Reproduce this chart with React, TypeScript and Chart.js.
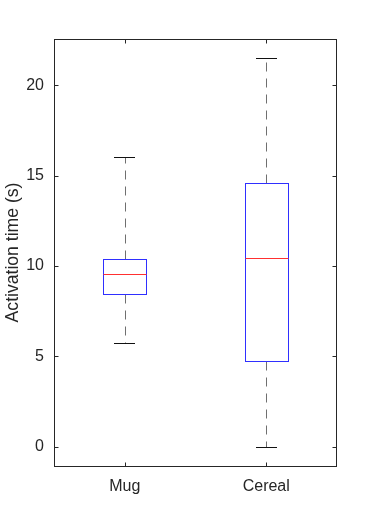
import React, { useEffect, useRef } from "react";
import { Chart, registerables } from "chart.js";

Chart.register(...registerables);

const categories = ["Mug", "Cereal"];
const q1 = [8.46, 4.75];
const medians = [9.57, 10.47];
const q3 = [10.4, 14.61];
const whiskerLow = [5.74, 0];
const whiskerHigh = [16.06, 21.53];
const yTicks = [0, 5, 10, 15, 20];
const yMin = -1.075;
const yMax = 22.575;

const TEXT = "#262626";
const BOX = "#2f2fff";
const MED = "#ff3030";
const WHISK = "#6f6f6f";
const FONT = "'Liberation Sans', Arial, sans-serif";

const crisp = (v: number) => Math.round(v) + 0.5;

const boxPlugin = {
  id: "boxPlugin",
  afterDatasetsDraw(chart: any) {
    const { ctx, scales } = chart;
    const xs = scales.x;
    const ys = scales.y;
    ctx.save();
    ctx.lineWidth = 1;
    categories.forEach((_, i) => {
      const cx = xs.getPixelForValue(i);
      const half = 21.5;
      const capHalf = 10.5;
      const yq1 = ys.getPixelForValue(q1[i]);
      const yq3 = ys.getPixelForValue(q3[i]);
      const ylo = ys.getPixelForValue(whiskerLow[i]);
      const yhi = ys.getPixelForValue(whiskerHigh[i]);
      const ymed = ys.getPixelForValue(medians[i]);
      // whiskers dashed
      ctx.strokeStyle = WHISK;
      ctx.setLineDash([9, 7]);
      ctx.beginPath();
      ctx.moveTo(crisp(cx), crisp(yq3));
      ctx.lineTo(crisp(cx), crisp(yhi));
      ctx.moveTo(crisp(cx), crisp(yq1));
      ctx.lineTo(crisp(cx), crisp(ylo));
      ctx.stroke();
      ctx.setLineDash([]);
      // caps
      ctx.strokeStyle = "#111111";
      ctx.beginPath();
      ctx.moveTo(Math.round(cx - capHalf), crisp(yhi));
      ctx.lineTo(Math.round(cx + capHalf), crisp(yhi));
      ctx.moveTo(Math.round(cx - capHalf), crisp(ylo));
      ctx.lineTo(Math.round(cx + capHalf), crisp(ylo));
      ctx.stroke();
      // box
      ctx.strokeStyle = BOX;
      const l = crisp(cx - half);
      const r = crisp(cx + half);
      ctx.strokeRect(l, crisp(yq3), r - l, crisp(yq1) - crisp(yq3));
      // median
      ctx.strokeStyle = MED;
      ctx.beginPath();
      ctx.moveTo(l, crisp(ymed));
      ctx.lineTo(r, crisp(ymed));
      ctx.stroke();
    });
    ctx.restore();
  },
  afterDraw(chart: any) {
    const { ctx, chartArea, scales } = chart;
    const { left, right, top, bottom } = chartArea;
    ctx.save();
    ctx.strokeStyle = TEXT;
    ctx.lineWidth = 1;
    const L = crisp(left);
    const R = crisp(right) - 1;
    const T = crisp(top);
    const B = crisp(bottom);
    ctx.strokeRect(L, T, R - L, B - T);
    const tl = 4;
    ctx.beginPath();
    yTicks.forEach((v) => {
      const y = crisp(scales.y.getPixelForValue(v));
      ctx.moveTo(L, y);
      ctx.lineTo(L + tl, y);
      ctx.moveTo(R, y);
      ctx.lineTo(R - tl, y);
    });
    categories.forEach((_, i) => {
      const x = crisp(scales.x.getPixelForValue(i));
      ctx.moveTo(x, B);
      ctx.lineTo(x, B - tl);
      ctx.moveTo(x, T);
      ctx.lineTo(x, T + tl);
    });
    ctx.stroke();
    ctx.restore();
  },
};

export default function App() {
  const ref = useRef<HTMLCanvasElement>(null);
  useEffect(() => {
    if (!ref.current) return;
    const chart = new Chart(ref.current, {
      type: "bar",
      data: {
        labels: categories,
        datasets: [
          {
            label: "IQR",
            data: categories.map((_, i) => [q1[i], q3[i]]) as any,
            backgroundColor: "rgba(0,0,0,0)",
            borderWidth: 0,
            barThickness: 43,
          },
        ],
      },
      options: {
        responsive: false,
        animation: false,
        devicePixelRatio: 1,
        layout: { padding: { left: 0, right: 36, top: 39, bottom: 0 } },
        plugins: {
          legend: { display: false },
          tooltip: { enabled: false },
          title: { display: false },
        },
        scales: {
          x: {
            type: "category",
            offset: true,
            grid: { display: false, drawTicks: false },
            border: { display: false },
            ticks: {
              color: TEXT,
              padding: 11,
              font: { family: FONT, size: 16 },
              maxRotation: 0,
            },
            afterFit: (s: any) => {
              s.height = 59;
            },
          },
          y: {
            type: "linear",
            min: yMin,
            max: yMax,
            grid: { display: false, drawTicks: false },
            border: { display: false },
            ticks: {
              color: TEXT,
              padding: 10,
              font: { family: FONT, size: 16 },
              includeBounds: false,
            },
            afterBuildTicks: (s: any) => {
              s.ticks = yTicks.map((v) => ({ value: v }));
            },
            afterFit: (s: any) => {
              s.width = 54;
            },
            title: {
              display: true,
              text: "Activation time (s)",
              color: TEXT,
              font: { family: FONT, size: 17.6 },
              padding: { top: 3, bottom: 0 },
            },
          },
        },
      },
      plugins: [boxPlugin],
    });
    return () => chart.destroy();
  }, []);
  return (
    <div style={{ position: "absolute", left: 0, top: 0, width: 373, height: 525, background: "#fff" }}>
      <canvas ref={ref} width={373} height={525} />
    </div>
  );
}
